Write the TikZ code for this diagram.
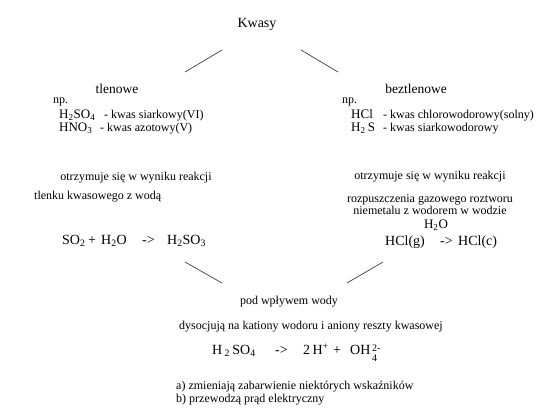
\documentclass[tikz,border=0pt]{standalone}
\usepackage{fontspec}
\setmainfont{Liberation Serif}
\begin{document}
\begin{tikzpicture}[x=1pt,y=-1pt,
  txt/.style={font=\fontsize{12}{14}\selectfont, inner sep=0pt},
  head/.style={font=\fontsize{13.5}{15}\selectfont, inner sep=0pt},
  small/.style={font=\fontsize{12}{13}\selectfont, inner sep=0pt},
  form/.style={font=\fontsize{13}{14}\selectfont, inner sep=0pt},
  big/.style={font=\fontsize{14}{16}\selectfont, inner sep=0pt},
  idx/.style={font=\fontsize{10}{10}\selectfont, inner sep=0pt, align=left},
  conn/.style={draw=black!75, line width=0.7pt}]
\useasboundingbox (0,0) rectangle (550,420);
% title
\node[big, anchor=mid] (kwasy) at (257,25) {Kwasy};
% branch lines
\coordinate (l1a) at (222,50); \coordinate (l1b) at (185,72);
\coordinate (r1a) at (301,50); \coordinate (r1b) at (338,72);
\draw[conn] (l1a) -- (l1b);
\draw[conn] (r1a) -- (r1b);
% left branch
\node[head, anchor=mid] (tlen) at (117,91) {tlenowe};
\node[small, anchor=mid west] (np1) at (53,101) {np.};
\node[form, anchor=mid west] (f1) at (59,116) {H\textsubscript{2}SO\textsubscript{4}};
\node[small, anchor=mid west] (d1) at (104,116) {- kwas siarkowy(VI)};
\node[form, anchor=mid west] (f2) at (59,129) {HNO\textsubscript{3}};
\node[small, anchor=mid west] (d2) at (100,129) {- kwas azotowy(V)};
% right branch
\node[head, anchor=mid] (bez) at (416,91) {beztlenowe};
\node[small, anchor=mid west] (np2) at (342,101) {np.};
\node[form, anchor=mid west] (f3) at (351,116) {HCl};
\node[small, anchor=mid west] (d3) at (383,116) {- kwas chlorowodorowy(solny)};
\node[form, anchor=mid west] (f4) at (351,129) {H\textsubscript{2}\,S};
\node[small, anchor=mid west] (d4) at (383,129) {- kwas siarkowodorowy};
% reactions left
\node[txt, anchor=mid] (o1) at (136,178) {otrzymuje się w wyniku reakcji};
\node[txt, anchor=mid west] (t1) at (34,197) {tlenku kwasowego z wodą};
\node[big, anchor=mid west] (e1a) at (62,242) {SO\textsubscript{2}};
\node[big, anchor=mid west] (e1b) at (88,242) {+};
\node[big, anchor=mid west] (e1c) at (101,242) {H\textsubscript{2}O};
\node[big, anchor=mid west] (e1d) at (142,242) {->};
\node[big, anchor=mid west] (e1e) at (167,242) {H\textsubscript{2}SO\textsubscript{3}};
% reactions right
\node[txt, anchor=mid] (o2) at (430,177) {otrzymuje się w wyniku reakcji};
\node[txt, anchor=mid] (r2a) at (430,200) {rozpuszczenia gazowego roztworu};
\node[txt, anchor=mid] (r2b) at (430,212) {niemetalu z wodorem w wodzie};
\node[txt, font=\fontsize{13}{15}\selectfont, anchor=mid] (h2o) at (436,226) {H\textsubscript{2}O};
\node[big, anchor=mid west] (e2a) at (385,243) {HCl(g)};
\node[big, anchor=mid west] (e2b) at (440,243) {->};
\node[big, anchor=mid west] (e2c) at (458,243) {HCl(c)};
% lower lines
\coordinate (l2a) at (185,262); \coordinate (l2b) at (222,283);
\coordinate (r2a') at (383,262); \coordinate (r2b') at (347,283);
\draw[conn] (l2a) -- (l2b);
\draw[conn] (r2a') -- (r2b');
% bottom
\node[txt, anchor=mid] (pod) at (289,302) {pod wpływem wody};
\node[txt, anchor=mid] (dys) at (311,327) {dysocjują na kationy wodoru i aniony reszty kwasowej};
\node[big, anchor=mid west] (e3a) at (212,352) {H\,\textsubscript{2}\,SO\textsubscript{4}};
\node[big, anchor=mid west] (e3b) at (275,352) {->};
\node[big, anchor=mid west] (e3c) at (303,352) {2\,H\textsuperscript{+}};
\node[big, anchor=mid west] (e3d) at (333,352) {+};
\node[big, anchor=mid west] (e3e) at (350,352) {OH};
\node[idx, anchor=west] (e3s) at (372,353) {2-\\4};
\node[small, anchor=mid west] (pa) at (176,387) {a) zmieniają zabarwienie niektórych wskaźników};
\node[small, anchor=mid west] (pb) at (176,400) {b) przewodzą prąd elektryczny};
\end{tikzpicture}
\end{document}
